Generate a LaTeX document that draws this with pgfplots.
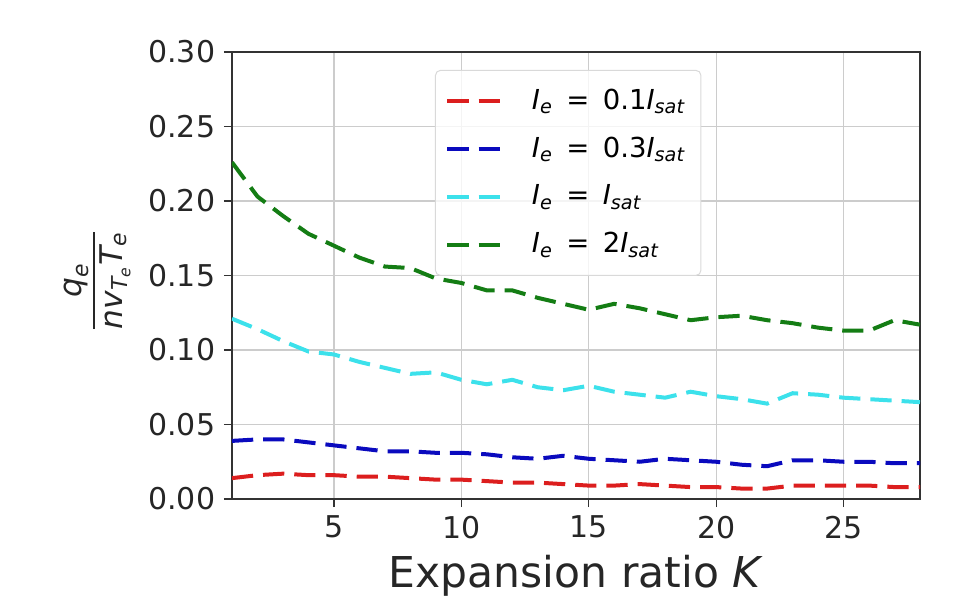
\documentclass[border=0pt]{standalone}
\usepackage{amsmath}
\usepackage{fontspec}
\setmainfont{DejaVu Sans}
\usepackage{pgfplots}
\usepackage{pgfplotstable}
\pgfplotsset{compat=1.18}

\definecolor{cred}{RGB}{220,30,30}
\definecolor{cblue}{RGB}{10,10,190}
\definecolor{ccyan}{RGB}{60,225,235}
\definecolor{cgreen}{RGB}{20,125,20}

\pgfplotstableread{
K red blue cyan green
1 0.014 0.039 0.121 0.226
2 0.016 0.040 0.114 0.203
3 0.017 0.040 0.106 0.190
4 0.016 0.038 0.099 0.178
5 0.016 0.036 0.097 0.170
6 0.015 0.034 0.092 0.162
7 0.015 0.032 0.088 0.156
8 0.014 0.032 0.084 0.155
9 0.013 0.031 0.085 0.148
10 0.013 0.031 0.080 0.145
11 0.012 0.030 0.077 0.140
12 0.011 0.028 0.080 0.140
13 0.011 0.027 0.075 0.135
14 0.010 0.029 0.073 0.131
15 0.009 0.027 0.076 0.127
16 0.009 0.026 0.072 0.131
17 0.010 0.025 0.070 0.128
18 0.009 0.027 0.068 0.124
19 0.008 0.026 0.072 0.120
20 0.008 0.025 0.069 0.122
21 0.007 0.023 0.067 0.123
22 0.007 0.022 0.064 0.120
23 0.009 0.026 0.071 0.118
24 0.009 0.026 0.070 0.115
25 0.009 0.025 0.068 0.113
26 0.009 0.025 0.067 0.113
27 0.008 0.024 0.066 0.120
28 0.008 0.024 0.065 0.117
}\datatable

\newcommand{\eqs}{\ \,=\ \,}
\begin{document}
\begin{tikzpicture}[x=0.4pt,y=0.4pt]
\path[use as bounding box] (-232,-96) rectangle (723,499);
\begin{axis}[
  at={(0,0)}, anchor=south west,
  scale only axis, width=275.2pt, height=178.8pt,
  xmin=1, xmax=28, ymin=0, ymax=0.30,
  xtick={5,10,15,20,25},
  ytick={0,0.05,0.1,0.15,0.2,0.25,0.3},
  yticklabel style={/pgf/number format/.cd, fixed, fixed zerofill, precision=2},
  /pgf/number format/assume math mode=true,
  tick label style={font=\fontsize{12}{12}\selectfont, text=black!85},
  grid=major,
  major grid style={gray!40, line width=0.5pt},
  tick align=outside, tick pos=left,
  major tick length=3.2pt,
  tick style={black!80, line width=0.5pt},
  axis line style={black!80, line width=0.6pt},
  xlabel={Expansion ratio \textit{K}},
  xlabel style={font=\fontsize{17}{17}\selectfont, text=black!85, yshift=0pt},
  ylabel={$\dfrac{\text{\itshape q}_{\text{\itshape e}}}{\text{\itshape nv}_{\text{\itshape T}_{\text{\itshape e}}}\text{\itshape T}_{\text{\itshape e}}}$},
  ylabel style={at={(axis description cs:-0.196,0.489)}, anchor=center, font=\fontsize{12.5}{13}\selectfont, text=black!85},
  every axis plot/.append style={line width=1.6pt, dash pattern=on 8.5pt off 4pt},
  legend style={at={(axis description cs:0.295,0.96)}, anchor=north west,
    draw=gray!30, rounded corners=2pt, fill=white, fill opacity=0.8, text opacity=1,
    font=\fontsize{11}{12.5}\selectfont, row sep=5.5pt, inner xsep=4pt, inner ysep=5.5pt,
    /tikz/every odd column/.append style={column sep=9pt}},
  legend cell align=left,
  legend image code/.code={\draw[#1] (0pt,0pt) -- (22pt,0pt);},
]
\addplot[cred, no marks] table[x=K, y=red] {\datatable};
\addlegendentry{\textit{I}\textsubscript{\textit{e}}\eqs0.1\textit{I}\textsubscript{\textit{sat}}}
\addplot[cblue, no marks] table[x=K, y=blue] {\datatable};
\addlegendentry{\textit{I}\textsubscript{\textit{e}}\eqs0.3\textit{I}\textsubscript{\textit{sat}}}
\addplot[ccyan, no marks] table[x=K, y=cyan] {\datatable};
\addlegendentry{\textit{I}\textsubscript{\textit{e}}\eqs\textit{I}\textsubscript{\textit{sat}}}
\addplot[cgreen, no marks] table[x=K, y=green] {\datatable};
\addlegendentry{\textit{I}\textsubscript{\textit{e}}\eqs2\textit{I}\textsubscript{\textit{sat}}}
\end{axis}
\end{tikzpicture}
\end{document}
